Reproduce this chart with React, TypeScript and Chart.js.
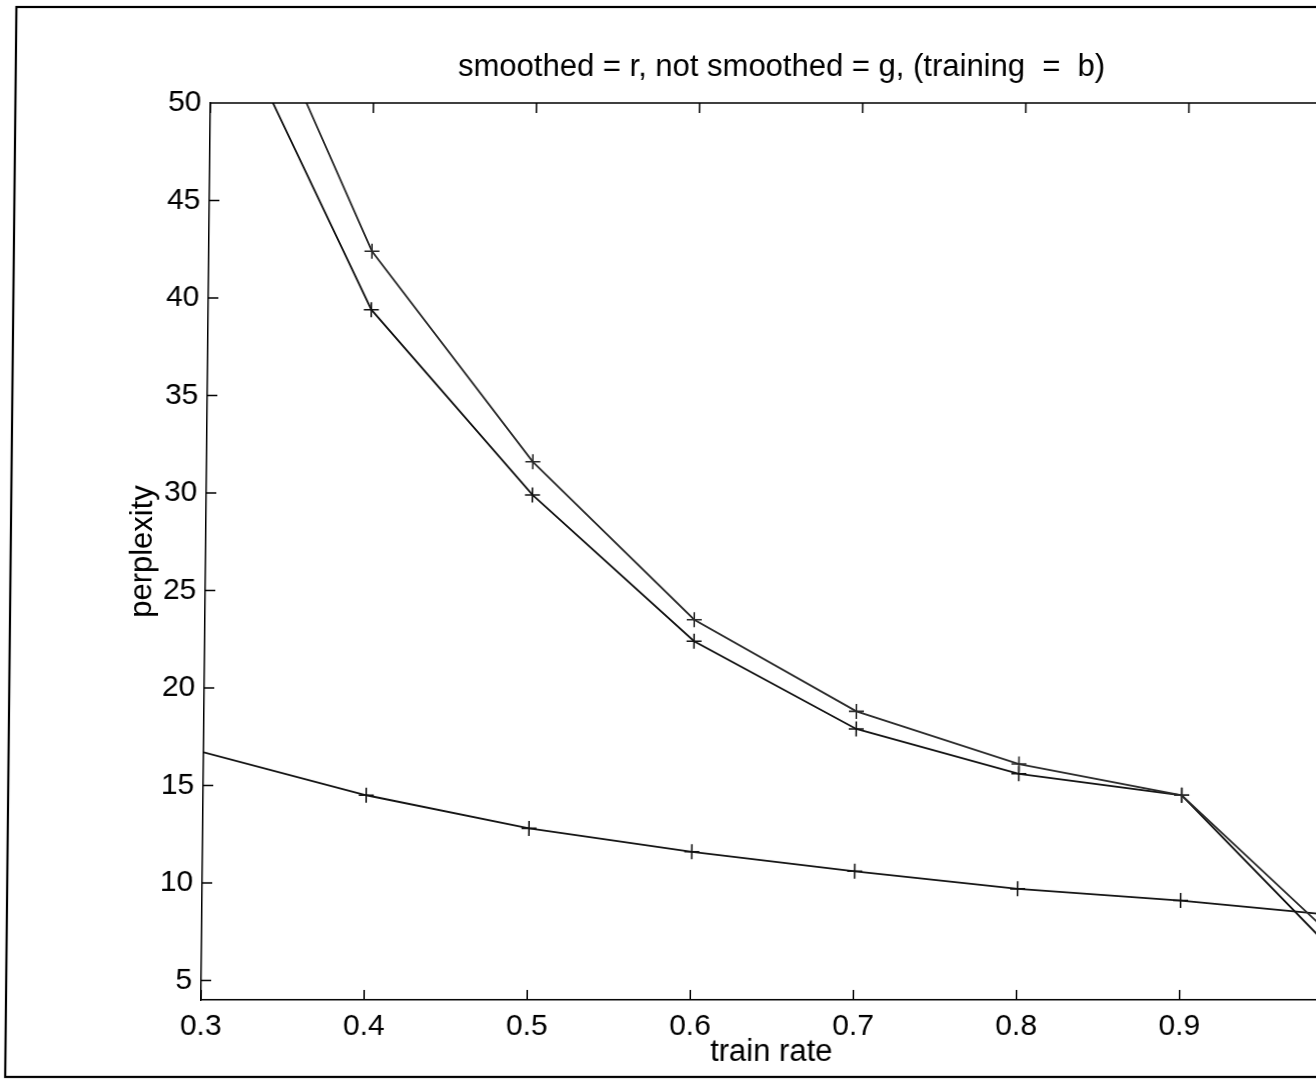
import React, { useEffect, useRef } from "react";
import { Chart, registerables } from "chart.js";

Chart.register(...registerables);

// ---- data ----
const trainRates = [0.3, 0.4, 0.5, 0.6, 0.7, 0.8, 0.9, 1.0];
const notSmoothed = [60.9, 42.4, 31.6, 23.5, 18.8, 16.1, 14.5, 6.75];
const smoothed = [56.6, 39.4, 29.9, 22.4, 17.9, 15.6, 14.5, 6.0];
const training = [16.7, 14.5, 12.8, 11.6, 10.6, 9.7, 9.1, 8.3];
const markerRadii = [0, 7.5, 7.5, 7.5, 7.5, 7.5, 7.5, 7.5];

const xTicks = [0.3, 0.4, 0.5, 0.6, 0.7, 0.8, 0.9, 1.0];
const xTickLabels = ["0.3", "0.4", "0.5", "0.6", "0.7", "0.8", "0.9", "1"];
const yTicks = [5, 10, 15, 20, 25, 30, 35, 40, 45, 50];
const yTickLabels = ["5", "10", "15", "20", "25", "30", "35", "40", "45", "50"];

const titleText = "smoothed = r, not smoothed = g, (training  =  b)";
const xTitle = "train rate";
const yTitle = "perplexity";

const FONT = "'Liberation Sans', Arial, Helvetica, sans-serif";
const SKEW = 0.0105;

const framePlugin = {
  id: "matlabFrame",
  beforeDraw(chart: any) {
    const { ctx } = chart;
    ctx.save();
    ctx.strokeStyle = "#000";
    ctx.lineWidth = 2.2;
    ctx.strokeRect(6, 7, 3000, 1070);
    ctx.restore();
  },
  afterDraw(chart: any) {
    const { ctx, chartArea } = chart;
    const xs = chart.scales.x;
    const ys = chart.scales.y;
    const tl = 10;
    ctx.save();
    ctx.strokeStyle = "#000";
    ctx.lineWidth = 1.5;
    ctx.beginPath();
    ctx.moveTo(chartArea.left, chartArea.top);
    ctx.lineTo(chartArea.right, chartArea.top);
    xs.ticks.forEach((t: any) => {
      const px = xs.getPixelForValue(t.value);
      ctx.moveTo(px, chartArea.bottom);
      ctx.lineTo(px, chartArea.bottom - tl);
      ctx.moveTo(px, chartArea.top);
      ctx.lineTo(px, chartArea.top + tl);
    });
    ys.ticks.forEach((t: any) => {
      const py = ys.getPixelForValue(t.value);
      ctx.moveTo(chartArea.left, py);
      ctx.lineTo(chartArea.left + tl, py);
      ctx.moveTo(chartArea.right, py);
      ctx.lineTo(chartArea.right - tl, py);
    });
    ctx.stroke();
    ctx.restore();
  },
};

function makeSeries(label: string, values: number[], color: string) {
  return {
    label,
    data: trainRates.map((x, i) => ({ x, y: values[i] })),
    borderColor: color,
    borderWidth: 1.8,
    pointStyle: "cross",
    pointRadius: markerRadii,
    pointBorderWidth: 1.6,
    pointBorderColor: color,
    pointBackgroundColor: color,
    tension: 0,
    fill: false,
  };
}

export default function App() {
  const canvasRef = useRef<HTMLCanvasElement | null>(null);

  useEffect(() => {
    const canvas = canvasRef.current;
    if (!canvas) return;
    const tickFont = { family: FONT, size: 30 };
    const titleFont = { family: FONT, size: 31 };
    const chart = new Chart(canvas, {
      type: "line",
      data: {
        datasets: [
          makeSeries("not smoothed", notSmoothed, "#2a2a2a"),
          makeSeries("smoothed", smoothed, "#111"),
          makeSeries("training", training, "#111"),
        ],
      },
      options: {
        animation: false,
        responsive: false,
        devicePixelRatio: 1,
        layout: { padding: { left: 0, right: 11, top: 0, bottom: 0 } },
        plugins: {
          legend: { display: false },
          tooltip: { enabled: false },
          title: {
            display: true,
            text: titleText,
            color: "#000",
            font: { ...titleFont, weight: "normal" },
            padding: { top: 49, bottom: 16.8 },
            fullSize: false,
          },
        },
        scales: {
          x: {
            type: "linear",
            min: 0.3,
            max: 1.0,
            afterBuildTicks: (s: any) => {
              s.ticks = xTicks.map((v) => ({ value: v }));
            },
            afterFit: (s: any) => {
              s.height = 79;
            },
            ticks: {
              callback: (_v: any, i: number) => xTickLabels[i],
              color: "#000",
              font: tickFont,
              padding: 9,
              maxRotation: 0,
              autoSkip: false,
            },
            grid: { display: true, drawOnChartArea: false, drawTicks: false },
            border: { display: true, color: "#000", width: 1.5 },
            title: {
              display: true,
              text: xTitle,
              color: "#000",
              font: titleFont,
              padding: { top: 0, bottom: 8 },
            },
          },
          y: {
            type: "linear",
            min: 4,
            max: 50,
            afterBuildTicks: (s: any) => {
              s.ticks = yTicks.map((v) => ({ value: v }));
            },
            afterFit: (s: any) => {
              s.width = 201;
            },
            ticks: {
              callback: (_v: any, i: number) => yTickLabels[i],
              color: "#000",
              font: tickFont,
              padding: 9,
              autoSkip: false,
            },
            grid: { display: true, drawOnChartArea: false, drawTicks: false },
            border: { display: true, color: "#000", width: 1.5 },
            title: {
              display: true,
              text: yTitle,
              color: "#000",
              font: titleFont,
              padding: { top: 119.4, bottom: 0 },
            },
          },
        },
      },
      plugins: [framePlugin],
    } as any);
    return () => chart.destroy();
  }, []);

  return (
    <div
      style={{
        position: "absolute",
        left: 0,
        top: 0,
        width: 1316,
        height: 1079,
        overflow: "hidden",
        background: "#fff",
      }}
    >
      <canvas
        ref={canvasRef}
        width={1360}
        height={1079}
        style={{
          display: "block",
          width: 1360,
          height: 1079,
          transformOrigin: "0 0",
          transform: `matrix(1, 0, ${-SKEW}, 1, ${SKEW * 1000}, 0)`,
        }}
      />
    </div>
  );
}
